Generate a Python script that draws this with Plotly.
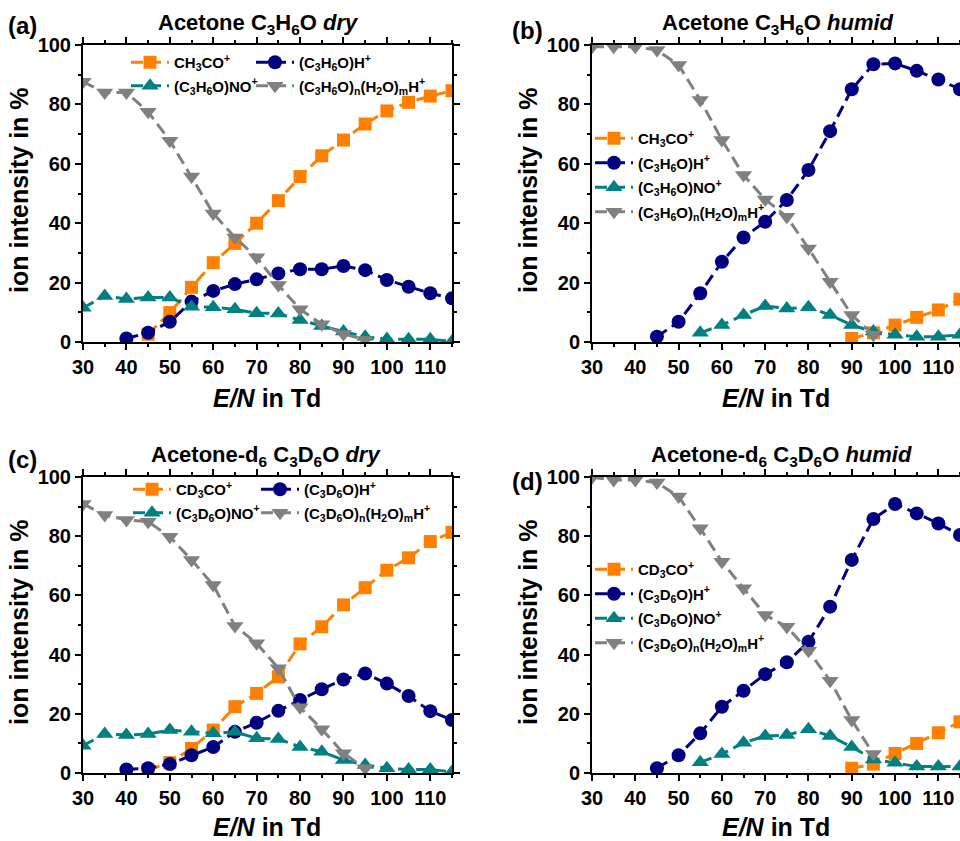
import plotly.graph_objects as go

# ---------------- data ----------------
en_30_115 = [30, 35, 40, 45, 50, 55, 60, 65, 70, 75, 80, 85, 90, 95, 100, 105, 110, 115]
en_30_95 = [30, 35, 40, 45, 50, 55, 60, 65, 70, 75, 80, 85, 90, 95]
en_40_115 = [40, 45, 50, 55, 60, 65, 70, 75, 80, 85, 90, 95, 100, 105, 110, 115]
en_45_115 = [45, 50, 55, 60, 65, 70, 75, 80, 85, 90, 95, 100, 105, 110, 115]
en_55_115 = [55, 60, 65, 70, 75, 80, 85, 90, 95, 100, 105, 110, 115]
en_90_115 = [90, 95, 100, 105, 110, 115]

# (a) acetone dry
a_acyl = [2.6, 9.9, 18.4, 26.7, 33.2, 40.0, 47.6, 55.7, 62.7, 68.0, 73.4, 77.8, 80.7, 82.8, 84.6]
a_prot = [1.2, 3.1, 6.8, 13.6, 17.2, 19.5, 21.1, 23.1, 24.5, 24.5, 25.6, 24.2, 20.9, 18.6, 16.4, 14.7]
a_no = [11.5, 15.5, 14.5, 15.0, 15.0, 11.9, 11.7, 11.0, 9.7, 9.6, 7.4, 5.4, 3.5, 1.8, 1.0, 0.9, 0.9, 0.2]
a_clu = [87.6, 84.0, 84.0, 77.5, 67.8, 55.7, 43.3, 35.2, 28.5, 19.2, 11.0, 6.0, 2.7, 0.7]

# (b) acetone humid
b_acyl = [1.2, 3.1, 5.7, 8.3, 10.8, 14.4]
b_prot = [1.8, 6.8, 16.4, 27.0, 35.2, 40.5, 47.8, 57.9, 71.0, 85.1, 93.5, 93.8, 91.3, 88.4, 85.1]
b_no = [3.1, 5.7, 9.1, 12.1, 11.3, 11.7, 9.1, 5.7, 3.5, 2.4, 1.8, 1.8, 2.4]
b_clu = [99.4, 99.4, 99.4, 98.3, 93.3, 81.5, 68.0, 56.2, 48.0, 42.2, 31.5, 20.3, 9.1, 2.4]

# (c) acetone-d6 dry
c_acyl = [1.0, 3.5, 8.3, 14.5, 22.4, 26.9, 32.5, 43.6, 49.4, 56.8, 62.6, 68.5, 72.7, 78.2, 81.3]
c_prot = [1.2, 1.6, 3.0, 6.0, 8.8, 13.9, 17.0, 21.0, 24.7, 28.3, 31.6, 33.6, 30.2, 26.0, 20.9, 17.9]
c_no = [9.2, 13.2, 12.8, 13.2, 14.5, 13.9, 13.4, 13.9, 11.7, 11.5, 8.8, 7.2, 4.4, 2.7, 1.6, 1.2, 1.2, 0.4]
c_clu = [90.9, 87.2, 85.5, 84.9, 79.8, 72.0, 63.5, 49.7, 43.8, 35.4, 22.2, 14.8, 6.7, 1.6]

# (d) acetone-d6 humid
d_acyl = [1.6, 3.0, 6.6, 10.0, 13.6, 17.3]
d_prot = [1.6, 6.0, 13.4, 22.4, 27.8, 33.4, 37.4, 44.3, 56.2, 72.0, 85.8, 90.9, 87.7, 84.3, 80.4]
d_no = [3.6, 6.4, 10.2, 12.5, 12.8, 14.8, 12.5, 8.8, 4.6, 3.5, 2.2, 2.2, 2.2]
d_clu = [99.9, 99.0, 99.0, 98.1, 93.4, 82.7, 71.4, 62.4, 53.4, 49.4, 41.3, 31.2, 17.9, 6.4]

names_h = ["CH<sub>3</sub>CO<sup>+</sup>",
           "(C<sub>3</sub>H<sub>6</sub>O)H<sup>+</sup>",
           "(C<sub>3</sub>H<sub>6</sub>O)NO<sup>+</sup>",
           "(C<sub>3</sub>H<sub>6</sub>O)<sub>n</sub>(H<sub>2</sub>O)<sub>m</sub>H<sup>+</sup>"]
names_d = ["CD<sub>3</sub>CO<sup>+</sup>",
           "(C<sub>3</sub>D<sub>6</sub>O)H<sup>+</sup>",
           "(C<sub>3</sub>D<sub>6</sub>O)NO<sup>+</sup>",
           "(C<sub>3</sub>D<sub>6</sub>O)<sub>n</sub>(H<sub>2</sub>O)<sub>m</sub>H<sup>+</sup>"]
titles = ["Acetone C<sub>3</sub>H<sub>6</sub>O <i>dry</i>",
          "Acetone C<sub>3</sub>H<sub>6</sub>O <i>humid</i>",
          "Acetone-d<sub>6</sub> C<sub>3</sub>D<sub>6</sub>O <i>dry</i>",
          "Acetone-d<sub>6</sub> C<sub>3</sub>D<sub>6</sub>O <i>humid</i>"]
labels = ["(a)", "(b)", "(c)", "(d)"]
x_title = "<i>E/N</i> in Td"
y_title = "ion intensity in %"

# ---------------- style ----------------
W, H = 960, 841
FONT = "Liberation Sans, Arial, sans-serif"
colors = ["#FF8000", "#000080", "#008080", "#808080"]
symbols = ["square", "circle", "triangle-up", "triangle-down"]
msizes = [13, 14, 15, 15]


def fx(p):
    return p / W


def fy(p):
    return 1 - p / H


panels = [
    dict(xd=(83, 452), yd=(45, 342)),
    dict(xd=(592, 960), yd=(45, 342)),
    dict(xd=(83, 452), yd=(477, 773)),
    dict(xd=(592, 960), yd=(477, 773)),
]

series = [
    [(en_45_115, a_acyl), (en_40_115, a_prot), (en_30_115, a_no), (en_30_95, a_clu)],
    [(en_90_115, b_acyl), (en_45_115, b_prot), (en_55_115, b_no), (en_30_95, b_clu)],
    [(en_45_115, c_acyl), (en_40_115, c_prot), (en_30_115, c_no), (en_30_95, c_clu)],
    [(en_90_115, d_acyl), (en_45_115, d_prot), (en_55_115, d_no), (en_30_95, d_clu)],
]
legend_map = [
    ["legend", "legend2", "legend", "legend2"],
    ["legend3"] * 4,
    ["legend4", "legend5", "legend4", "legend5"],
    ["legend6"] * 4,
]

fig = go.Figure()
for pi, pan in enumerate(panels):
    names = names_h if pi < 2 else names_d
    xa = "x" if pi == 0 else f"x{pi+1}"
    ya = "y" if pi == 0 else f"y{pi+1}"
    for si, (xs, ys) in enumerate(series[pi]):
        fig.add_trace(go.Scatter(
            x=xs, y=ys, xaxis=xa, yaxis=ya, mode="lines+markers",
            name=names[si], legend=legend_map[pi][si],
            legendgroup=f"p{pi}s{si}",
            line=dict(color=colors[si], width=3, dash="12px,6px"),
            marker=dict(symbol=symbols[si], size=msizes[si], color=colors[si],
                        line=dict(width=0)),
        ))

axis_font = dict(family=FONT, size=20, color="black", weight="bold")
layout = dict(
    template="none",
    width=W, height=H, margin=dict(l=0, r=0, t=0, b=0, pad=0, autoexpand=False),
    paper_bgcolor="white", plot_bgcolor="white",
    font=dict(family=FONT, color="black"),
    showlegend=True,
)
for pi, pan in enumerate(panels):
    sfx = "" if pi == 0 else str(pi + 1)
    right = pi in (1, 3)
    layout["xaxis" + sfx] = dict(
        domain=[fx(pan["xd"][0]), fx(pan["xd"][1])],
        anchor="y" + sfx, range=[30, 115], dtick=10, tick0=30,
        showgrid=False, zeroline=False, automargin=False,
        showline=True, linecolor="black", linewidth=2, mirror="allticks",
        ticks="outside", ticklen=6, tickwidth=2, tickcolor="black",
        minor=dict(dtick=5, ticks="outside", ticklen=3, tickwidth=2, tickcolor="black"),
        tickfont=axis_font,
    )
    layout["yaxis" + sfx] = dict(
        domain=[fy(pan["yd"][1]), fy(pan["yd"][0])],
        anchor="x" + sfx, range=[0, 100], dtick=20,
        showgrid=False, zeroline=False, automargin=False,
        showline=True, linecolor="black", linewidth=2,
        mirror=False if right else "allticks",
        ticks="outside", ticklen=6, tickwidth=2, tickcolor="black",
        minor=dict(dtick=10, ticks="outside", ticklen=3, tickwidth=2, tickcolor="black"),
        tickfont=axis_font,
    )

leg_font = dict(family=FONT, size=15, color="black", weight="bold")


def leg(x, ytop, gap):
    return dict(x=fx(x), y=fy(ytop), xanchor="left", yanchor="top",
                orientation="v", bgcolor="rgba(0,0,0,0)", borderwidth=0,
                font=leg_font, tracegroupgap=gap, itemwidth=38,
                traceorder="grouped")


layout["legend"] = leg(126, 46, 1)
layout["legend2"] = leg(251, 46, 1)
layout["legend3"] = leg(590, 122, 2)
layout["legend4"] = leg(128, 473, 1)
layout["legend5"] = leg(256, 473, 1)
layout["legend6"] = leg(590, 553, 2)

ann = []
title_pos = [(258, 24), (778, 24), (266, 456), (781, 456)]
label_pos = [(22, 26), (527, 30), (22, 459), (527, 481)]
ytitle_pos = [(19, 190), (528, 190), (19, 622), (528, 622)]
xtitle_pos = [(267, 398), (776, 398), (267, 827), (776, 827)]


def add_ann(text, pos, size, angle=0):
    ann.append(dict(text=text, x=fx(pos[0]), y=fy(pos[1]),
                    xref="paper", yref="paper", showarrow=False,
                    xanchor="center", yanchor="middle", textangle=angle,
                    font=dict(family=FONT, size=size, color="black", weight="bold")))


for pi in range(4):
    add_ann(titles[pi], title_pos[pi], 22)
    add_ann(labels[pi], label_pos[pi], 24)
    add_ann(y_title, ytitle_pos[pi], 25, -90)
    add_ann(x_title, xtitle_pos[pi], 25)
layout["annotations"] = ann

fig.update_layout(**layout)
fig.write_html("out.html")
